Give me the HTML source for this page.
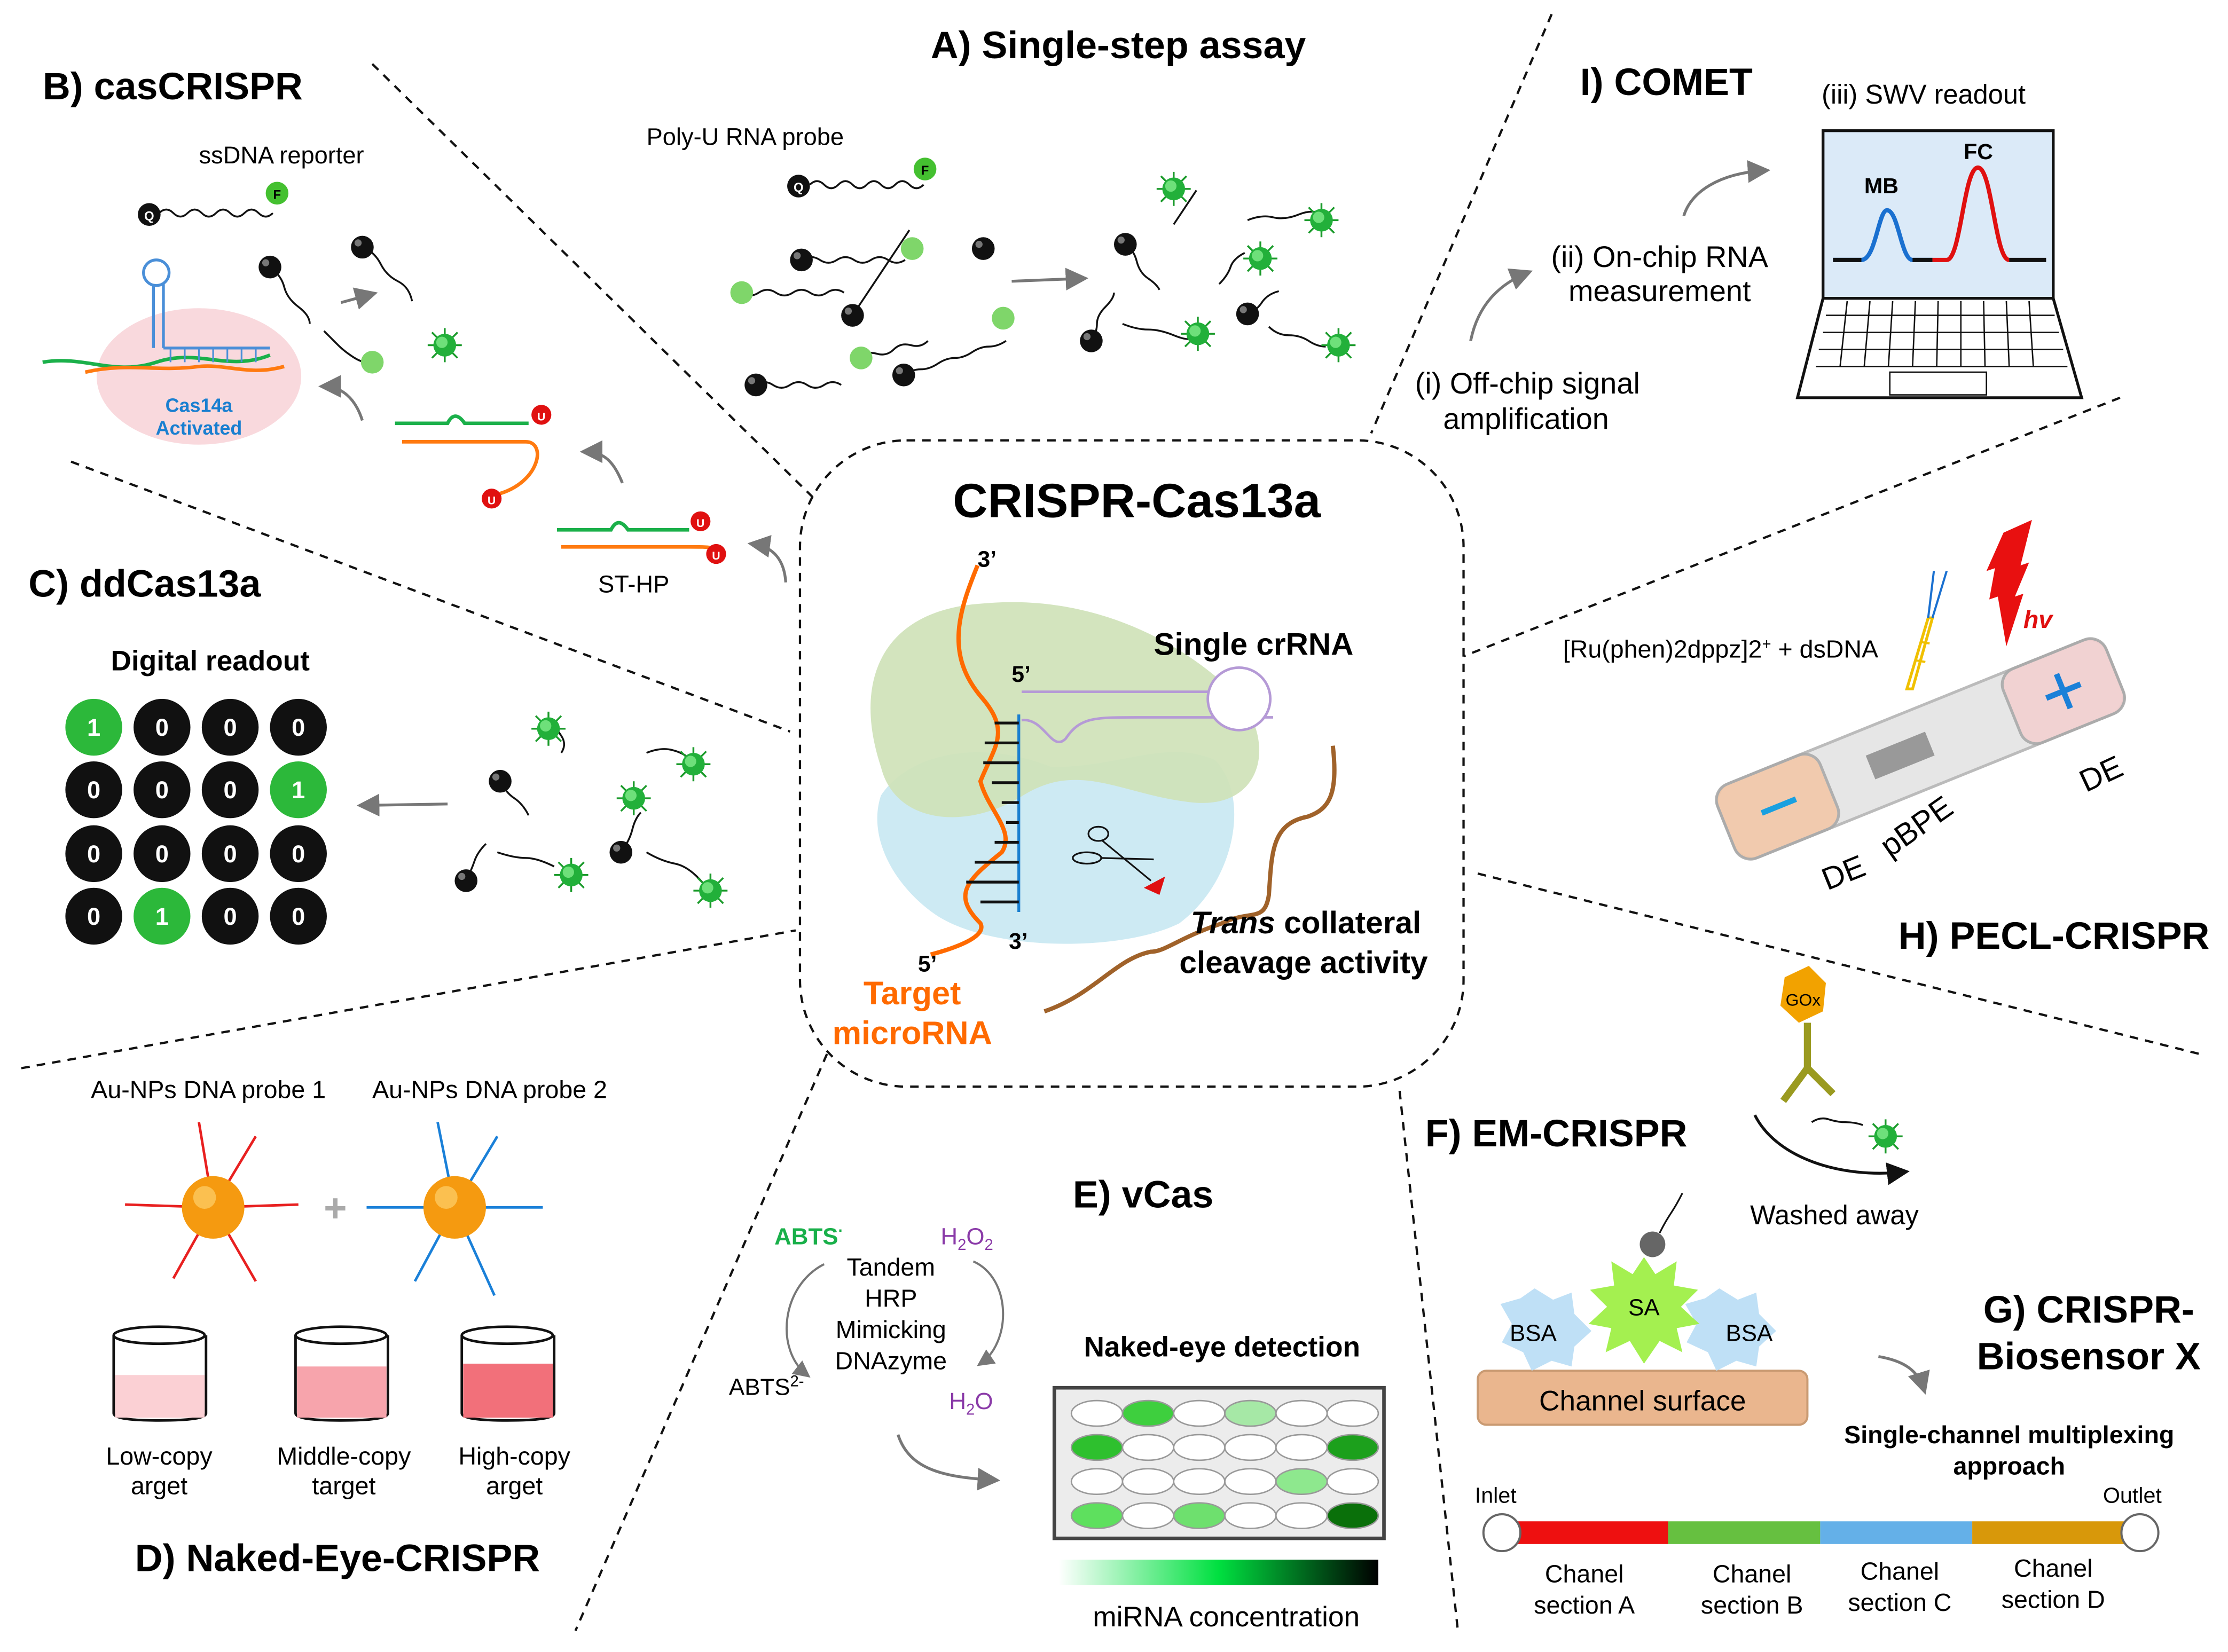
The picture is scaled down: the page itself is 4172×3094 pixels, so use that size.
<!DOCTYPE html>
<html><head><meta charset="utf-8"><style>
html,body{margin:0;padding:0;background:#fff;}
svg{display:block;}
text{font-family:"Liberation Sans",Arial,sans-serif;}
</style></head><body>
<svg width="4172" height="3094" viewBox="0 0 1568 1163" preserveAspectRatio="none" xmlns="http://www.w3.org/2000/svg">
<defs>
<g id="fl"><g stroke="#1a9a2a" stroke-width="1.3"><line x1="-12" y1="0" x2="12" y2="0"/><line x1="0" y1="-12" x2="0" y2="12"/><line x1="-9" y1="-9" x2="9" y2="9"/><line x1="-9" y1="9" x2="9" y2="-9"/></g><circle r="8" fill="#22b03a"/><circle r="4" cx="-2" cy="-2" fill="#6ee07a"/></g>
<g id="bb"><circle r="8" fill="#111"/><circle r="2.5" cx="-3" cy="-3" fill="#777"/></g>
<g id="gb"><circle r="8" fill="#7fd66a"/></g>
<marker id="ar" markerWidth="8" markerHeight="8" refX="6" refY="4" orient="auto"><path d="M0,0 L8,4 L0,8 z" fill="#777"/></marker>
<marker id="ak" markerWidth="8" markerHeight="8" refX="6" refY="4" orient="auto"><path d="M0,0 L8,4 L0,8 z" fill="#111"/></marker>
<linearGradient id="grad" x1="0" x2="1"><stop offset="0" stop-color="#fff"/><stop offset="0.5" stop-color="#00e040"/><stop offset="1" stop-color="#000"/></linearGradient>
</defs>
<rect width="1568" height="1163" fill="#fff"/>

<g stroke="#111" stroke-width="1.6" stroke-dasharray="6,5" fill="none">
<line x1="262" y1="45" x2="572" y2="350"/>
<line x1="1092" y1="10" x2="965" y2="305"/>
<line x1="50" y1="325" x2="556" y2="515"/>
<line x1="1492" y1="280" x2="1030" y2="462"/>
<line x1="15" y1="752" x2="560" y2="655"/>
<line x1="1040" y1="615" x2="1548" y2="742"/>
<line x1="582" y1="742" x2="405" y2="1148"/>
<line x1="985" y1="768" x2="1026" y2="1148"/>
<rect x="563" y="310" width="467" height="455" rx="75"/>
</g>

<!-- Center -->
<text x="800" y="364" font-size="34" font-weight="bold" text-anchor="middle">CRISPR-Cas13a</text>
<path d="M620,560 C640,530 690,520 740,540 C790,540 820,520 855,535 C880,560 870,620 830,650 C790,670 700,670 660,645 C630,625 610,590 620,560 Z" fill="#cdeaf3"/>
<path d="M620,540 C600,480 620,430 690,425 C760,418 820,445 860,480 C900,510 895,570 840,565 C790,560 760,535 720,560 C680,585 630,580 620,540 Z" fill="#cfe2b8" opacity="0.92"/>
<path d="M688,398 C675,430 665,460 690,490 C712,515 700,525 690,550 C695,570 715,585 705,600 C680,620 670,630 690,650 C695,660 670,668 655,672" stroke="#ff6a00" stroke-width="3" fill="none"/>
<line x1="717" y1="503" x2="717" y2="642" stroke="#1a7fd0" stroke-width="2"/>
<g stroke="#111" stroke-width="2">
<line x1="700" y1="509" x2="717" y2="509"/><line x1="693" y1="523" x2="717" y2="523"/><line x1="692" y1="537" x2="717" y2="537"/><line x1="698" y1="551" x2="717" y2="551"/><line x1="705" y1="565" x2="717" y2="565"/><line x1="708" y1="579" x2="717" y2="579"/><line x1="700" y1="593" x2="717" y2="593"/><line x1="686" y1="607" x2="717" y2="607"/><line x1="680" y1="621" x2="717" y2="621"/><line x1="690" y1="635" x2="717" y2="635"/>
</g>
<path d="M719,487 L893,487 M719,507 C735,505 740,530 750,520 C760,505 770,505 800,505 L896,505" stroke="#b59ad6" stroke-width="1.8" fill="none"/>
<circle cx="872" cy="492" r="22" fill="#fff" stroke="#b59ad6" stroke-width="1.8"/>
<text x="688" y="399" font-size="16" font-weight="bold">3’</text>
<text x="712" y="480" font-size="16" font-weight="bold">5’</text>
<text x="710" y="668" font-size="16" font-weight="bold">3’</text>
<text x="646" y="684" font-size="16" font-weight="bold">5’</text>
<text x="812" y="461" font-size="22" font-weight="bold">Single crRNA</text>
<text x="642" y="707" font-size="23" font-weight="bold" fill="#ff6a00" text-anchor="middle">Target</text>
<text x="642" y="735" font-size="23" font-weight="bold" fill="#ff6a00" text-anchor="middle">microRNA</text>
<path d="M938,525 C942,560 935,570 920,575 C895,580 895,600 893,630 C890,650 880,640 860,650 C830,660 820,670 810,670 C785,675 770,700 735,712" stroke="#a0622a" stroke-width="3" fill="none"/>
<g stroke="#111" stroke-width="1.2" fill="none"><ellipse cx="773" cy="587" rx="7" ry="5"/><ellipse cx="765" cy="604" rx="10" ry="4"/><line x1="776" y1="592" x2="810" y2="620"/><line x1="775" y1="604" x2="812" y2="605"/></g>
<path d="M805,625 L820,617 L816,630 Z" fill="#e01010"/>
<text x="838" y="657" font-size="22" font-weight="bold"><tspan font-style="italic">Trans</tspan> collateral</text>
<text x="830" y="685" font-size="22" font-weight="bold">cleavage activity</text>

<!-- A -->
<text x="655" y="41" font-size="27" font-weight="bold">A) Single-step assay</text>
<text x="455" y="102" font-size="17">Poly-U RNA probe</text>
<path d="M570,130 q5,-5 10,0 t10,0 t10,0 t10,0 t10,0 t10,0 t10,0 t10,0" stroke="#111" stroke-width="1.3" fill="none"/>
<circle cx="562" cy="131" r="8" fill="#111"/><text x="562" y="135" font-size="9" fill="#fff" text-anchor="middle" font-weight="bold">Q</text>
<circle cx="651" cy="119" r="8" fill="#44c030"/><text x="651" y="123" font-size="9" text-anchor="middle" font-weight="bold">F</text>
<g stroke="#111" stroke-width="1.3" fill="none">
<path d="M565,183 q6,-4 12,0 t12,0 t12,0 t12,0 t12,0 t12,0"/>
<path d="M522,206 q6,4 12,0 t12,0 t12,0 t12,0 t12,0 t12,0"/>
<path d="M600,222 q4,-6 8,-12 t8,-12 t8,-12 t8,-12 t8,-12"/>
<path d="M605,252 q5,-5 12,-3 t12,-3 t12,-3 t12,-3"/>
<path d="M532,271 q6,-4 12,0 t12,0 t12,0 t12,0 t12,0"/>
<path d="M636,264 q6,-4 12,-4 t12,-4 t12,-4 t12,-4 t12,-4 t12,-4"/>
</g>
<use href="#bb" x="564" y="183"/><use href="#gb" x="642" y="175"/>
<use href="#gb" x="522" y="206"/><use href="#bb" x="600" y="222"/>
<use href="#bb" x="692" y="175"/><use href="#gb" x="606" y="252"/>
<use href="#bb" x="532" y="271"/><use href="#bb" x="636" y="264"/><use href="#gb" x="706" y="224"/>
<line x1="712" y1="198" x2="762" y2="196" stroke="#777" stroke-width="2" marker-end="url(#ar)"/>
<g stroke="#111" stroke-width="1.3" fill="none">
<path d="M792,172 q6,4 8,12 t8,12 t8,8"/><path d="M768,240 q4,-6 4,-12 t6,-12 t6,-10"/>
<path d="M826,158 q4,-6 8,-12 t8,-12"/><path d="M878,155 q10,-4 18,-2 t18,-2 t18,0"/>
<path d="M858,200 q6,-6 8,-12 t10,-10"/><path d="M878,221 q6,-2 10,-8 t12,-8"/>
<path d="M790,228 q10,4 18,4 t18,4 t12,2"/><path d="M893,230 q6,6 14,6 t14,4 t12,4"/>
</g>
<use href="#bb" x="792" y="172"/><use href="#fl" x="826" y="133"/><use href="#fl" x="930" y="155"/>
<use href="#bb" x="768" y="240"/><use href="#fl" x="887" y="182"/><use href="#bb" x="878" y="221"/>
<use href="#fl" x="843" y="235"/><use href="#fl" x="942" y="243"/>

<!-- B -->
<text x="30" y="70" font-size="27" font-weight="bold">B) casCRISPR</text>
<text x="140" y="115" font-size="17">ssDNA reporter</text>
<path d="M112,150 q5,-5 10,0 t10,0 t10,0 t10,0 t10,0 t10,0 t10,0 t10,0" stroke="#111" stroke-width="1.3" fill="none"/>
<circle cx="105" cy="151" r="8" fill="#111"/><text x="105" y="155" font-size="9" fill="#fff" text-anchor="middle" font-weight="bold">Q</text>
<circle cx="195" cy="136" r="8" fill="#44c030"/><text x="195" y="140" font-size="9" text-anchor="middle" font-weight="bold">F</text>
<ellipse cx="140" cy="265" rx="72" ry="48" fill="#f8d0d4" opacity="0.8"/>
<path d="M30,255 C60,250 80,265 110,255 C140,245 160,262 190,250" stroke="#1bb04a" stroke-width="2.5" fill="none"/>
<path d="M60,262 C90,255 110,262 140,258 C160,256 175,265 200,258" stroke="#ff7a10" stroke-width="2.5" fill="none"/>
<path d="M108,245 L108,200 M115,245 L115,200 M115,245 L190,245" stroke="#4a8fd8" stroke-width="2" fill="none"/>
<circle cx="110" cy="192" r="9" fill="none" stroke="#4a8fd8" stroke-width="2"/>
<g stroke="#4a8fd8" stroke-width="1.2"><line x1="120" y1="245" x2="120" y2="255"/><line x1="130" y1="245" x2="130" y2="255"/><line x1="140" y1="245" x2="140" y2="255"/><line x1="150" y1="245" x2="150" y2="255"/><line x1="160" y1="245" x2="160" y2="255"/><line x1="170" y1="245" x2="170" y2="255"/><line x1="180" y1="245" x2="180" y2="255"/></g>
<text x="140" y="290" font-size="13.5" font-weight="bold" fill="#1a7fd0" text-anchor="middle">Cas14a</text>
<text x="140" y="306" font-size="13.5" font-weight="bold" fill="#1a7fd0" text-anchor="middle">Activated</text>
<g stroke="#111" stroke-width="1.3" fill="none"><path d="M190,188 q8,6 10,14 t10,14 t8,12"/><path d="M228,233 q6,6 10,10 t10,8 t10,4"/><path d="M256,174 q8,4 12,12 t12,12 t10,14"/></g>
<use href="#bb" x="190" y="188"/><use href="#gb" x="262" y="255"/><use href="#bb" x="255" y="174"/><use href="#fl" x="313" y="243"/>
<line x1="240" y1="213" x2="262" y2="207" stroke="#777" stroke-width="2" marker-end="url(#ar)"/>
<path d="M255,296 C250,280 240,272 228,272" stroke="#777" stroke-width="2" fill="none" marker-end="url(#ar)"/>
<path d="M278,298 L315,298 q5,-10 12,0 L372,298" stroke="#1bb04a" stroke-width="2.5" fill="none"/>
<path d="M283,311 L318,311 L370,311 C385,311 380,340 350,348" stroke="#ff7a10" stroke-width="2.5" fill="none"/>
<circle cx="381" cy="292" r="7" fill="#e01010"/><text x="381" y="296" font-size="8" fill="#fff" text-anchor="middle" font-weight="bold">U</text>
<circle cx="346" cy="351" r="7" fill="#e01010"/><text x="346" y="355" font-size="8" fill="#fff" text-anchor="middle" font-weight="bold">U</text>
<path d="M438,340 C432,325 425,318 412,318" stroke="#777" stroke-width="2" fill="none" marker-end="url(#ar)"/>
<path d="M392,373 L430,373 q5,-10 12,0 L485,373" stroke="#1bb04a" stroke-width="2.5" fill="none"/>
<path d="M395,385 L430,385 L485,385 C500,385 505,385 504,390" stroke="#ff7a10" stroke-width="2.5" fill="none"/>
<circle cx="493" cy="367" r="7" fill="#e01010"/><text x="493" y="371" font-size="8" fill="#fff" text-anchor="middle" font-weight="bold">U</text>
<circle cx="504" cy="390" r="7" fill="#e01010"/><text x="504" y="394" font-size="8" fill="#fff" text-anchor="middle" font-weight="bold">U</text>
<text x="446" y="417" font-size="17" text-anchor="middle">ST-HP</text>
<path d="M553,410 C552,395 545,385 530,383" stroke="#777" stroke-width="2" fill="none" marker-end="url(#ar)"/>

<!-- C -->
<text x="20" y="420" font-size="27" font-weight="bold">C) ddCas13a</text>
<text x="148" y="472" font-size="20" font-weight="bold" text-anchor="middle">Digital readout</text>
<g font-size="17" font-weight="bold" fill="#fff" text-anchor="middle">
<circle cx="66" cy="512" r="20" fill="#2cb83a"/><circle cx="114" cy="512" r="20" fill="#111"/><circle cx="162" cy="512" r="20" fill="#111"/><circle cx="210" cy="512" r="20" fill="#111"/>
<circle cx="66" cy="556" r="20" fill="#111"/><circle cx="114" cy="556" r="20" fill="#111"/><circle cx="162" cy="556" r="20" fill="#111"/><circle cx="210" cy="556" r="20" fill="#2cb83a"/>
<circle cx="66" cy="601" r="20" fill="#111"/><circle cx="114" cy="601" r="20" fill="#111"/><circle cx="162" cy="601" r="20" fill="#111"/><circle cx="210" cy="601" r="20" fill="#111"/>
<circle cx="66" cy="645" r="20" fill="#111"/><circle cx="114" cy="645" r="20" fill="#2cb83a"/><circle cx="162" cy="645" r="20" fill="#111"/><circle cx="210" cy="645" r="20" fill="#111"/>
<text x="66" y="518">1</text><text x="114" y="518">0</text><text x="162" y="518">0</text><text x="210" y="518">0</text>
<text x="66" y="562">0</text><text x="114" y="562">0</text><text x="162" y="562">0</text><text x="210" y="562">1</text>
<text x="66" y="607">0</text><text x="114" y="607">0</text><text x="162" y="607">0</text><text x="210" y="607">0</text>
<text x="66" y="651">0</text><text x="114" y="651">1</text><text x="162" y="651">0</text><text x="210" y="651">0</text>
</g>
<line x1="315" y1="566" x2="255" y2="567" stroke="#777" stroke-width="2" marker-end="url(#ar)"/>
<g stroke="#111" stroke-width="1.3" fill="none"><path d="M352,550 q4,8 10,12 t10,12"/><path d="M328,620 q4,-8 6,-14 t8,-12"/><path d="M395,530 q4,-6 0,-12 t-6,-8"/><path d="M437,600 q6,-8 8,-16 t6,-12"/><path d="M455,530 q10,-4 18,-2 t12,6"/><path d="M455,600 q10,6 20,8 t20,14"/><path d="M350,600 q12,4 20,4 t20,6"/></g>
<use href="#bb" x="352" y="550"/><use href="#bb" x="328" y="620"/><use href="#fl" x="386" y="513"/><use href="#fl" x="446" y="562"/>
<use href="#bb" x="437" y="600"/><use href="#fl" x="488" y="538"/><use href="#fl" x="402" y="616"/><use href="#fl" x="500" y="627"/>

<!-- D -->
<text x="64" y="773" font-size="17.5">Au-NPs DNA probe  1</text>
<text x="262" y="773" font-size="17.5">Au-NPs DNA probe  2</text>
<g stroke="#e82020" stroke-width="1.8" fill="none">
<path d="M150,850 l-10,-60 M150,850 l30,-50 M150,850 l60,-2 M150,850 l-62,-2 M150,850 l-28,50 M150,850 l30,52"/>
</g>
<g stroke="#1a80d8" stroke-width="1.8" fill="none">
<path d="M320,850 l-12,-60 M320,850 l30,-50 M320,850 l62,0 M320,850 l-62,0 M320,850 l-28,52 M320,850 l28,62"/>
</g>
<circle cx="150" cy="850" r="22" fill="#f59a10"/><circle cx="320" cy="850" r="22" fill="#f59a10"/>
<circle cx="144" cy="843" r="8" fill="#fbc050"/><circle cx="314" cy="843" r="8" fill="#fbc050"/>
<text x="236" y="860" font-size="28" font-weight="bold" fill="#aaa" text-anchor="middle">+</text>
<g stroke="#111" stroke-width="1.8">
<path d="M80,940 L80,995 Q80,1000 112,1000 Q145,1000 145,995 L145,940" fill="#fff"/>
<ellipse cx="112" cy="940" rx="32" ry="6" fill="#fff"/>
<path d="M208,940 L208,995 Q208,1000 240,1000 Q273,1000 273,995 L273,940" fill="#fff"/>
<ellipse cx="240" cy="940" rx="32" ry="6" fill="#fff"/>
<path d="M325,940 L325,995 Q325,1000 357,1000 Q390,1000 390,995 L390,940" fill="#fff"/>
<ellipse cx="357" cy="940" rx="32" ry="6" fill="#fff"/>
</g>
<rect x="81" y="968" width="63" height="30" fill="#fbd0d4"/><rect x="209" y="962" width="63" height="36" fill="#f7a4ac"/><rect x="326" y="960" width="63" height="38" fill="#f2707a"/>
<g font-size="17.5" text-anchor="middle">
<text x="112" y="1031">Low-copy</text><text x="112" y="1052">arget</text>
<text x="242" y="1031">Middle-copy</text><text x="242" y="1052">target</text>
<text x="362" y="1031">High-copy</text><text x="362" y="1052">arget</text>
</g>
<text x="95" y="1106" font-size="27" font-weight="bold">D) Naked-Eye-CRISPR</text>

<!-- E -->
<text x="755" y="850" font-size="27" font-weight="bold">E) vCas</text>
<text x="545" y="876" font-size="16.5" font-weight="bold" fill="#19b04a">ABTS<tspan font-size="11" dy="-6">·</tspan></text>
<text x="662" y="876" font-size="16.5" fill="#8a3aa8">H<tspan font-size="11" dy="4">2</tspan><tspan dy="-4">O</tspan><tspan font-size="11" dy="4">2</tspan></text>
<g font-size="17.5" text-anchor="middle">
<text x="627" y="898">Tandem</text>
<text x="627" y="920">HRP</text>
<text x="627" y="942">Mimicking</text>
<text x="627" y="964">DNAzyme</text>
</g>
<text x="513" y="982" font-size="16.5">ABTS<tspan font-size="11" dy="-6">2-</tspan></text>
<text x="668" y="992" font-size="16.5" fill="#8a3aa8">H<tspan font-size="11" dy="4">2</tspan><tspan dy="-4">O</tspan></text>
<path d="M580,890 C550,905 545,950 568,968" stroke="#777" stroke-width="1.5" fill="none" marker-end="url(#ar)"/>
<path d="M685,888 C712,900 712,945 690,960" stroke="#777" stroke-width="1.5" fill="none" marker-end="url(#ar)"/>
<path d="M632,1010 C640,1035 665,1040 700,1042" stroke="#777" stroke-width="2" fill="none" marker-end="url(#ar)"/>
<text x="860" y="955" font-size="20" font-weight="bold" text-anchor="middle">Naked-eye detection</text>
<rect x="742" y="977" width="232" height="106" fill="#ececec" stroke="#444" stroke-width="2.5"/>
<g stroke="#999" stroke-width="1">
<ellipse cx="772" cy="995" rx="18" ry="9" fill="#fff"/><ellipse cx="808" cy="995" rx="18" ry="9" fill="#3ecf3e"/><ellipse cx="844" cy="995" rx="18" ry="9" fill="#fff"/><ellipse cx="880" cy="995" rx="18" ry="9" fill="#a6e8a6"/><ellipse cx="916" cy="995" rx="18" ry="9" fill="#fff"/><ellipse cx="952" cy="995" rx="18" ry="9" fill="#fff"/>
<ellipse cx="772" cy="1019" rx="18" ry="9" fill="#2ec02e"/><ellipse cx="808" cy="1019" rx="18" ry="9" fill="#fff"/><ellipse cx="844" cy="1019" rx="18" ry="9" fill="#fff"/><ellipse cx="880" cy="1019" rx="18" ry="9" fill="#fff"/><ellipse cx="916" cy="1019" rx="18" ry="9" fill="#fff"/><ellipse cx="952" cy="1019" rx="18" ry="9" fill="#1ca01c"/>
<ellipse cx="772" cy="1043" rx="18" ry="9" fill="#fff"/><ellipse cx="808" cy="1043" rx="18" ry="9" fill="#fff"/><ellipse cx="844" cy="1043" rx="18" ry="9" fill="#fff"/><ellipse cx="880" cy="1043" rx="18" ry="9" fill="#fff"/><ellipse cx="916" cy="1043" rx="18" ry="9" fill="#8ee88e"/><ellipse cx="952" cy="1043" rx="18" ry="9" fill="#fff"/>
<ellipse cx="772" cy="1067" rx="18" ry="9" fill="#5ee05e"/><ellipse cx="808" cy="1067" rx="18" ry="9" fill="#fff"/><ellipse cx="844" cy="1067" rx="18" ry="9" fill="#6ee06e"/><ellipse cx="880" cy="1067" rx="18" ry="9" fill="#fff"/><ellipse cx="916" cy="1067" rx="18" ry="9" fill="#fff"/><ellipse cx="952" cy="1067" rx="18" ry="9" fill="#0a700a"/>
</g>
<rect x="745" y="1098" width="225" height="18" fill="url(#grad)"/>
<text x="863" y="1145" font-size="20" text-anchor="middle">miRNA concentration</text>

<!-- I COMET -->
<text x="1112" y="67" font-size="27" font-weight="bold">I) COMET</text>
<text x="1282" y="73" font-size="19">(iii) SWV readout</text>
<rect x="1283" y="92" width="162" height="118" fill="#dbeaf8" stroke="#111" stroke-width="2"/>
<path d="M1290,183 L1310,183 C1320,183 1322,148 1328,148 C1336,148 1338,183 1346,183 L1360,183" stroke="#1a70d0" stroke-width="3" fill="none"/>
<path d="M1290,183 L1310,183 M1346,183 L1360,183" stroke="#111" stroke-width="3"/>
<path d="M1360,183 L1370,183 C1380,183 1382,118 1392,118 C1402,118 1404,183 1414,183" stroke="#e01010" stroke-width="3" fill="none"/>
<path d="M1414,183 L1440,183" stroke="#111" stroke-width="3"/>
<text x="1312" y="136" font-size="15.5" font-weight="bold">MB</text>
<text x="1382" y="112" font-size="15.5" font-weight="bold">FC</text>
<path d="M1283,210 L1445,210 L1465,280 L1265,280 Z" fill="#fff" stroke="#111" stroke-width="2"/>
<g stroke="#111" stroke-width="1">
<line x1="1285" y1="222" x2="1446" y2="222"/><line x1="1283" y1="234" x2="1449" y2="234"/><line x1="1280" y1="246" x2="1452" y2="246"/><line x1="1278" y1="258" x2="1455" y2="258"/>
<line x1="1300" y1="212" x2="1295" y2="258"/><line x1="1316" y1="212" x2="1312" y2="258"/><line x1="1332" y1="212" x2="1329" y2="258"/><line x1="1348" y1="212" x2="1346" y2="258"/><line x1="1364" y1="212" x2="1363" y2="258"/><line x1="1380" y1="212" x2="1380" y2="258"/><line x1="1396" y1="212" x2="1397" y2="258"/><line x1="1412" y1="212" x2="1414" y2="258"/><line x1="1428" y1="212" x2="1431" y2="258"/>
</g>
<rect x="1330" y="262" width="68" height="16" fill="#fff" stroke="#111" stroke-width="1"/>
<text x="1168" y="188" font-size="21" text-anchor="middle">(ii) On-chip RNA</text>
<text x="1168" y="212" font-size="21" text-anchor="middle">measurement</text>
<text x="1075" y="277" font-size="21" text-anchor="middle">(i) Off-chip signal</text>
<text x="1074" y="302" font-size="21" text-anchor="middle">amplification</text>
<path d="M1035,240 C1040,215 1055,200 1075,192" stroke="#777" stroke-width="2" fill="none" marker-end="url(#ar)"/>
<path d="M1185,152 C1190,135 1210,122 1242,120" stroke="#777" stroke-width="2" fill="none" marker-end="url(#ar)"/>

<!-- H PECL -->
<text x="1100" y="463" font-size="17.5">[Ru(phen)2dppz]2<tspan font-size="11" dy="-6">+</tspan><tspan dy="6"> + dsDNA</tspan></text>
<path d="M1342,485 L1357,435 L1360,435 L1346,485 Z" fill="none" stroke="#f0c000" stroke-width="2"/>
<path d="M1349,465 L1355,466 M1352,452 L1358,453" stroke="#f0c000" stroke-width="1.5"/>
<path d="M1357,435 L1361,402 M1360,435 L1370,402" stroke="#1a70d0" stroke-width="1.5"/>
<path d="M1410,375 L1430,366 L1422,398 L1428,396 L1418,420 L1424,418 L1412,455 L1406,420 L1400,422 L1404,400 L1398,402 Z" fill="#e81010"/>
<text x="1424" y="442" font-size="17.5" font-weight="bold" font-style="italic" fill="#e01010">hv</text>
<g transform="rotate(-22 1350 530)">
<rect x="1205" y="500" width="295" height="56" rx="14" fill="#e6e6e6" stroke="#bbb" stroke-width="2"/>
<rect x="1205" y="500" width="78" height="56" rx="12" fill="#f3c8a8" stroke="#aaa" stroke-width="2" opacity="0.9"/>
<rect x="1422" y="500" width="78" height="56" rx="12" fill="#f3d0d0" stroke="#aaa" stroke-width="2" opacity="0.9"/>
<rect x="1315" y="518" width="45" height="18" fill="#999"/>
<line x1="1232" y1="528" x2="1258" y2="528" stroke="#1aa0e0" stroke-width="4"/>
<line x1="1448" y1="528" x2="1474" y2="528" stroke="#1a80d8" stroke-width="4"/>
<line x1="1461" y1="515" x2="1461" y2="541" stroke="#1a80d8" stroke-width="4"/>
</g>
<g font-size="22">
<text transform="translate(1286,627) rotate(-22)">DE</text>
<text transform="translate(1330,604) rotate(-35)">pBPE</text>
<text transform="translate(1468,558) rotate(-25)">DE</text>
</g>
<text x="1336" y="668" font-size="27" font-weight="bold">H) PECL-CRISPR</text>

<!-- F EM-CRISPR -->
<text x="1003" y="807" font-size="27" font-weight="bold">F) EM-CRISPR</text>
<path d="M1256,688 L1273,680 L1285,692 L1283,712 L1266,720 L1253,708 Z" fill="#f2a200"/>
<text x="1269" y="708" font-size="12" text-anchor="middle">GOx</text>
<path d="M1272,720 L1272,752 L1255,775 M1272,752 L1290,770" stroke="#9a9a20" stroke-width="5" fill="none"/>
<path d="M1235,785 C1250,815 1295,830 1340,825" stroke="#111" stroke-width="2" fill="none" marker-end="url(#ak)"/>
<path d="M1275,790 q6,-4 12,-2 t12,2 t12,2" stroke="#111" stroke-width="1.3" fill="none"/>
<use href="#fl" x="1327" y="800"/>
<text x="1291" y="862" font-size="19" text-anchor="middle">Washed away</text>
<rect x="1040" y="965" width="232" height="38" rx="6" fill="#eab68e" stroke="#c99a72" stroke-width="1.5"/>
<text x="1156" y="993" font-size="20" text-anchor="middle">Channel surface</text>
<path d="M1080,907 L1093,915 L1106,910 L1108,925 L1120,937 L1108,948 L1106,962 L1092,958 L1078,965 L1072,952 L1057,945 L1064,932 L1056,918 L1070,914 Z" fill="#bfe0f6"/>
<text x="1079" y="944" font-size="16.5" text-anchor="middle">BSA</text>
<path d="M1210,907 L1223,915 L1236,910 L1238,925 L1250,937 L1238,948 L1236,962 L1222,958 L1208,965 L1202,952 L1187,945 L1194,932 L1186,918 L1200,914 Z" fill="#bfe0f6"/>
<text x="1231" y="944" font-size="16.5" text-anchor="middle">BSA</text>
<path d="M1157,885 L1165,897 L1180,888 L1178,905 L1195,908 L1183,920 L1196,932 L1180,935 L1184,952 L1168,944 L1157,960 L1147,944 L1130,952 L1134,935 L1118,932 L1131,920 L1119,908 L1136,905 L1134,888 L1149,897 Z" fill="#a4f050"/>
<text x="1157" y="926" font-size="16.5" text-anchor="middle">SA</text>
<line x1="1163" y1="885" x2="1163" y2="870" stroke="#111" stroke-width="1.5"/>
<circle cx="1163" cy="876" r="9" fill="#666"/>
<path d="M1168,868 q4,-8 8,-14 t8,-14" stroke="#111" stroke-width="1.2" fill="none"/>

<!-- G -->
<text x="1470" y="931" font-size="27" font-weight="bold" text-anchor="middle">G) CRISPR-</text>
<text x="1470" y="964" font-size="27" font-weight="bold" text-anchor="middle">Biosensor X</text>
<path d="M1322,955 C1340,958 1350,965 1354,978" stroke="#777" stroke-width="2" fill="none" marker-end="url(#ar)"/>
<text x="1414" y="1016" font-size="17.5" font-weight="bold" text-anchor="middle">Single-channel  multiplexing</text>
<text x="1414" y="1038" font-size="17.5" font-weight="bold" text-anchor="middle">approach</text>
<text x="1038" y="1058" font-size="15.5">Inlet</text>
<text x="1480" y="1058" font-size="15.5">Outlet</text>
<rect x="1068" y="1071" width="106" height="16" fill="#ee1010"/>
<rect x="1174" y="1071" width="107" height="16" fill="#66c040"/>
<rect x="1281" y="1071" width="107" height="16" fill="#64b0e8"/>
<rect x="1388" y="1071" width="107" height="16" fill="#d8980a"/>
<circle cx="1057" cy="1079" r="13" fill="#fff" stroke="#666" stroke-width="1.5"/>
<circle cx="1506" cy="1079" r="13" fill="#fff" stroke="#666" stroke-width="1.5"/>
<g font-size="17.5" text-anchor="middle">
<text x="1115" y="1114">Chanel</text><text x="1115" y="1136">section  A</text>
<text x="1233" y="1114">Chanel</text><text x="1233" y="1136">section  B</text>
<text x="1337" y="1112">Chanel</text><text x="1337" y="1134">section  C</text>
<text x="1445" y="1110">Chanel</text><text x="1445" y="1132">section  D</text>
</g>
</svg>
</body></html>
